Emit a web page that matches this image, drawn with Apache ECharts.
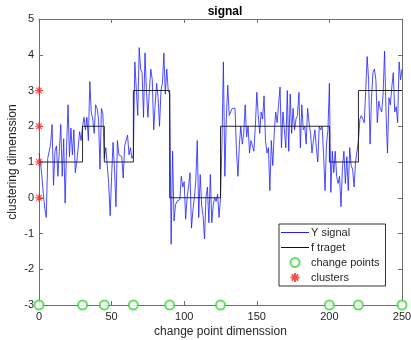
<!DOCTYPE html>
<html>
<head>
<meta charset="utf-8">
<script src="https://cdn.jsdelivr.net/npm/echarts@6/dist/echarts.min.js"></script>
<style>html,body{margin:0;padding:0;background:#fff;}#c{width:411px;height:340px;}</style>
</head>
<body>
<div id="c"></div>
<script>
// ---- data ----
const ySignal = [
 1.25,1.0,0.6,0.1,-0.3,-0.55,1.1,1.05,1.5,2.05,
 0.35,1.3,1.45,0.6,1.3,2.05,0.6,1.65,-0.15,1.4,
 2.6,1.15,1.95,1.2,1.9,0.7,1.0,0.95,1.85,1.6,
 2.0,2.25,1.9,2.25,1.6,3.25,2.4,2.2,1.8,2.6,
 2.5,2.2,0.8,2.5,2.35,1.1,1.4,1.45,0.4,-0.5,
 0.6,1.55,0.8,-0.25,1.6,1.2,1.25,1.15,0.55,1.45,
 1.4,1.75,1.2,1.4,1.1,1.2,3.8,3.75,2.3,4.2,
 3.6,3.5,2.25,4.05,3.0,2.25,3.0,3.6,3.3,1.9,
 2.6,3.2,2.8,2.0,3.0,3.2,4.05,2.9,3.6,3.0,
 2.9,-1.3,1.3,-0.65,-0.2,-0.1,-0.1,-0.05,0.6,0.3,
 0.45,-0.6,0.0,0.3,0.7,-0.85,-0.35,0.0,0.5,1.6,
 -0.55,0.65,-0.2,-0.5,-1.15,0.0,0.3,-0.7,0.65,-0.7,
 -0.2,0.0,-0.1,0.1,-0.55,0.0,1.5,3.8,0.6,2.2,
 3.15,2.3,2.4,2.5,2.45,2.5,1.3,0.6,1.5,2.0,
 1.5,1.8,2.6,1.7,2.0,1.25,1.6,1.6,1.3,2.0,
 2.95,2.3,1.8,2.4,2.2,2.85,1.6,1.25,1.4,0.2,
 1.6,0.9,1.8,2.4,2.1,2.6,3.1,1.4,2.4,1.9,
 1.4,3.0,1.3,2.9,1.8,2.5,1.9,2.2,2.3,2.95,
 1.4,2.6,1.9,2.0,1.5,2.5,2.1,1.8,1.25,1.6,
 1.9,1.4,1.0,2.0,1.9,2.0,1.2,0.2,1.5,1.9,
 3.2,0.15,1.3,0.7,1.3,0.6,0.4,0.6,-0.25,0.85,
 1.3,0.4,1.15,0.2,1.4,0.9,0.8,0.3,1.0,1.05,
 1.6,2.2,2.3,2.3,2.1,3.0,3.95,3.3,1.5,2.8,
 3.5,3.6,3.3,2.1,2.7,2.5,2.4,2.9,4.1,2.4,
 1.25,2.8,2.6,3.1,3.5,2.4,2.55,2.1,3.8,3.3,
 3.6
];
const changePoints = [0, 30, 45, 65, 90, 125, 200, 220, 250];
const targetLevels = [1, 2, 1, 3, 0, 2, 1, 3];
const changePointY = -3;
const clusterLevels = [0, 1, 2, 3];
const clusterX = 0;
const xTicks = [0, 50, 100, 150, 200, 250];
const yTicks = [-3, -2, -1, 0, 1, 2, 3, 4, 5];

// ---- build series data ----
const signalData = ySignal.map((v, i) => [i, v]);
const targetData = [];
for (let k = 0; k < targetLevels.length; k++) {
  targetData.push([changePoints[k], targetLevels[k]]);
  targetData.push([changePoints[k + 1], targetLevels[k]]);
}
const cpData = changePoints.map(x => [x, changePointY]);
const clData = clusterLevels.map(y => [clusterX, y]);

const asterisk = 'path://M5,0L5,10M0,5L10,5M1.5,1.5L8.5,8.5M8.5,1.5L1.5,8.5';
const lineIcon = 'path://M0,0L28,0L28,1L0,1Z';
const axisCol = '#6e6e6e';
const txtCol = '#262626';
const ff = 'Arial, "Liberation Sans", sans-serif';
const blue = '#1f1fff';
const black = '#111';
const green = '#3fd83f';
const red = '#ff2020';

const chart = echarts.init(document.getElementById('c'), null, {renderer: 'canvas'});
const common = {
  min: 0, max: 250, interval: 50, type: 'value',
  axisLine: {onZero: false, lineStyle: {color: axisCol, width: 1}},
  axisTick: {inside: true, length: 4, lineStyle: {color: axisCol}},
  splitLine: {show: false}
};
chart.setOption({
  animation: false,
  backgroundColor: '#fff',
  title: {
    text: 'signal', left: 220, top: 1, textAlign: 'center',
    textStyle: {fontFamily: ff, fontSize: 12, fontWeight: 'bold', color: '#000'}
  },
  grid: {left: 39, right: 9, top: 19, bottom: 35, containLabel: false, outerBoundsMode: 'none'},
  xAxis: [
    Object.assign({}, common, {
      position: 'bottom',
      name: 'change point dimenssion', nameLocation: 'middle', nameGap: 21,
      nameMoveOverlap: false,
      nameTextStyle: {fontFamily: ff, fontSize: 12, color: txtCol},
      axisLabel: {fontFamily: ff, fontSize: 11, color: txtCol, margin: 6,
        formatter: v => xTicks.includes(v) ? String(v) : ''}
    }),
    Object.assign({}, common, {position: 'top', axisLabel: {show: false}})
  ],
  yAxis: [
    {
      type: 'value', min: -3, max: 5, interval: 1, position: 'left',
      name: 'clustering dimenssion', nameLocation: 'middle', nameGap: 20,
      nameMoveOverlap: false,
      nameTextStyle: {fontFamily: ff, fontSize: 12, color: txtCol},
      axisLine: {show: true, onZero: false, lineStyle: {color: axisCol, width: 1}},
      axisTick: {show: true, inside: true, length: 4, lineStyle: {color: axisCol}},
      axisLabel: {fontFamily: ff, fontSize: 11, color: txtCol, margin: 5,
        formatter: v => yTicks.includes(v) ? String(v) : ''},
      splitLine: {show: false}
    },
    {
      type: 'value', min: -3, max: 5, interval: 1, position: 'right',
      axisLine: {show: true, onZero: false, lineStyle: {color: axisCol, width: 1}},
      axisTick: {show: true, inside: true, length: 4, lineStyle: {color: axisCol}},
      axisLabel: {show: false}, splitLine: {show: false}
    }
  ],
  legend: {
    orient: 'vertical', left: 279, top: 224, width: 97,
    padding: [3, 6, 3, 2], itemGap: 4, itemWidth: 28, itemHeight: 9,
    backgroundColor: '#fff', borderColor: '#333', borderWidth: 1,
    textStyle: {fontFamily: ff, fontSize: 11, color: txtCol, padding: [0, 0, 0, -3]},
    data: [
      {name: 'Y signal', icon: lineIcon, itemStyle: {color: blue, borderWidth: 0}},
      {name: 'f traget', icon: lineIcon, itemStyle: {color: black, borderWidth: 0}},
      {name: 'change points'},
      {name: 'clusters'}
    ]
  },
  series: [
    {
      name: 'Y signal', type: 'line', data: signalData, symbol: 'none',
      lineStyle: {color: blue, width: 0.8}, itemStyle: {color: blue}, z: 2
    },
    {
      name: 'f traget', type: 'line', data: targetData, symbol: 'none',
      lineStyle: {color: black, width: 0.9}, itemStyle: {color: black}, z: 3
    },
    {
      name: 'change points', type: 'scatter', data: cpData, symbol: 'emptyCircle',
      symbolSize: 9, clip: false,
      itemStyle: {color: green, borderColor: green, borderWidth: 1.2}, z: 5
    },
    {
      name: 'clusters', type: 'scatter', data: clData, symbol: asterisk,
      symbolSize: 8, clip: false,
      itemStyle: {color: 'rgba(0,0,0,0)', borderColor: red, borderWidth: 1.2}, z: 6
    }
  ]
});
</script>
</body>
</html>
